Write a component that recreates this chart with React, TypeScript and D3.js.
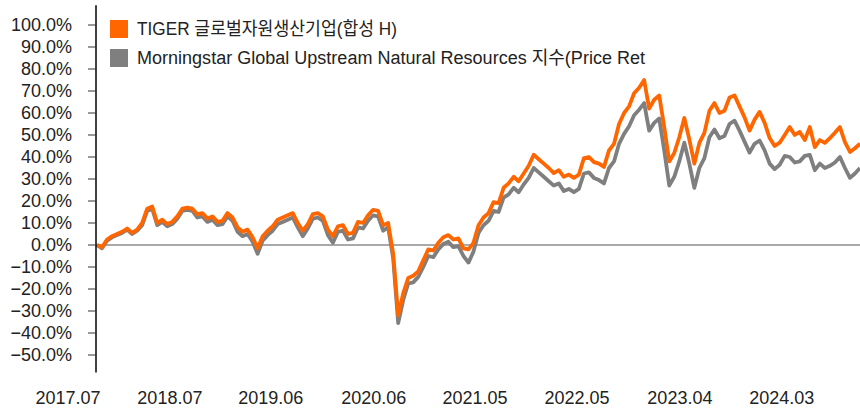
import React, { useEffect, useRef } from 'react';
import * as d3 from 'd3';

const WIDTH = 860;
const HEIGHT = 409;

// series values (cumulative return, %), sampled about every 5px of the original chart
const tigerValues = [
  0, -1, 2.5, 4, 5, 6, 7.5, 5.5, 7, 10,
  16.5, 17.5, 10, 11.5, 9.5, 10.5, 13, 16.5, 17, 16.5,
  14, 14.5, 12, 13, 10.5, 11, 14.5, 12.5, 8, 6,
  7, 3.5, -1.5, 4, 6.5, 8.5, 11.5, 12.5, 13.5, 14.5,
  10, 6.5, 9.5, 14, 14.5, 13, 7, 4, 8.5, 9,
  5, 5.5, 10.5, 10, 13.5, 16, 15.5, 9, 10, -4,
  -32, -22, -15, -14, -12, -7, -2, -2.5, 1, 3.5,
  4.5, 2.5, 3, -1.5, -2, 1, 9, 12.5, 14.5, 19.5,
  19, 26, 28, 31, 29, 32.5, 36, 41, 39, 37,
  35, 32.7, 34, 31, 32, 30.5, 32, 39.5, 40, 37.7,
  37, 35.5, 43, 46, 55, 60, 63, 69, 71.5, 75,
  62, 66, 68, 53.6, 38, 41.8, 49, 57.7, 48, 37,
  46.4, 51, 61, 64.5, 60, 61, 67, 68, 63, 58,
  52, 57, 60.5, 55.5, 48.6, 45, 46.5, 50, 53.6, 50,
  51.4, 47.7, 53.6, 44.5, 47.7, 46.4, 48.6, 51, 53.6, 46.8,
  42.3, 44, 46,
];

const indexValues = [
  0, -1.5, 2, 3.5, 4.5, 5.5, 7, 5, 6.5, 9,
  15.5, 16.5, 9, 10.5, 8.5, 9.5, 12, 15.5, 16, 15.5,
  12.5, 13, 10.5, 11.5, 9, 9.5, 13, 11, 6, 4,
  5, 1.5, -4, 2, 4.5, 6.5, 9.5, 10.5, 11.5, 12.5,
  8, 4, 7.5, 12, 12.5, 11, 4.5, 1, 6, 6.5,
  2.5, 3, 8, 7.5, 11, 13.5, 13, 6.5, 8, -6,
  -35.5, -25, -17.5, -17, -14.5, -10, -5, -5.5, -2, 0.5,
  1.5, -1, -0.5, -5, -8, -3, 5.5, 9, 11, 15.5,
  15, 21.5, 23, 26, 24, 27.5, 30.5, 35, 33, 31,
  29, 27, 28, 24.5, 25.5, 24, 25.5, 32.5, 33, 30.5,
  29.5, 28, 35, 38, 46, 50.5, 54, 59, 61.5, 64.5,
  52, 55.5, 57.5, 43, 27, 31, 38, 46.5, 37, 26,
  35, 39.5, 49, 52.5, 48.5, 49.5, 55, 56.5, 52, 47,
  42, 46, 47.5, 43, 37, 34.5, 36.5, 40.5, 40, 37.5,
  38, 40.5, 41, 34, 37, 35, 36, 37.5, 40, 35,
  30.5, 32.5, 35,
];

const seriesNames = [
  'TIGER 글로벌자원생산기업(합성 H)',
  'Morningstar Global Upstream Natural Resources 지수(Price Ret',
];
const seriesColors = ['#ff6600', '#7f7f7f'];

// x-axis tick labels and where they fall on the sample index
const tickLabels = ['2017.07', '2018.07', '2019.06', '2020.06', '2021.05', '2022.05', '2023.04', '2024.03'];
const tickIndex = [0, 20.3, 40.4, 60.9, 81.1, 101.4, 121.9, 142.2];

const yTicks = [100, 90, 80, 70, 60, 50, 40, 30, 20, 10, 0, -10, -20, -30, -40, -50];

const FONT = '"Liberation Sans", Arial, "Noto Sans CJK KR", sans-serif';

export default function App() {
  const svgRef = useRef<SVGSVGElement>(null);

  useEffect(() => {
    if (!svgRef.current) return;
    const svg = d3.select(svgRef.current);
    svg.selectAll('*').remove();

    const x = d3.scaleLinear().domain([0, tigerValues.length - 1]).range([97, 860]);
    const y = d3.scaleLinear().domain([-58, 109]).range([372.6, 5.2]);
    const axisX = 96;

    // zero line
    svg.append('line')
      .attr('x1', axisX).attr('x2', WIDTH)
      .attr('y1', y(0)).attr('y2', y(0))
      .attr('stroke', '#8c8c8c').attr('stroke-width', 1.5);

    const line = d3.line<number>()
      .x((_, i) => x(i))
      .y(d => y(d))
      .curve(d3.curveLinear);

    // index first, fund on top
    svg.append('path')
      .datum(indexValues)
      .attr('fill', 'none')
      .attr('stroke', seriesColors[1])
      .attr('stroke-width', 3.8)
      .attr('stroke-linejoin', 'round')
      .attr('d', line);

    svg.append('path')
      .datum(tigerValues)
      .attr('fill', 'none')
      .attr('stroke', seriesColors[0])
      .attr('stroke-width', 3.8)
      .attr('stroke-linejoin', 'round')
      .attr('d', line);

    // y axis
    const fmt = d3.format('.1f');
    const yAxis = svg.append('g');
    yAxis.append('line')
      .attr('x1', axisX).attr('x2', axisX)
      .attr('y1', y(109)).attr('y2', y(-58))
      .attr('stroke', '#000').attr('stroke-width', 1.5);
    yTicks.forEach(t => {
      yAxis.append('line')
        .attr('x1', axisX - 8).attr('x2', axisX)
        .attr('y1', y(t)).attr('y2', y(t))
        .attr('stroke', '#333').attr('stroke-width', 1);
      yAxis.append('text')
        .attr('x', 72)
        .attr('y', y(t))
        .attr('dy', '0.36em')
        .attr('text-anchor', 'end')
        .style('font-family', FONT)
        .style('font-size', '18px')
        .style('fill', '#222')
        .text(fmt(t) + '%');
    });

    // x labels
    tickLabels.forEach((label, i) => {
      svg.append('text')
        .attr('x', x(tickIndex[i]) - 29)
        .attr('y', 404)
        .attr('text-anchor', 'middle')
        .style('font-family', FONT)
        .style('font-size', '18px')
        .style('fill', '#222')
        .text(label);
    });

    // legend
    const legendWidths = [260, 508];
    seriesNames.forEach((name, i) => {
      const ly = 29 + i * 29;
      svg.append('rect')
        .attr('x', 110).attr('y', ly - 9)
        .attr('width', 18).attr('height', 18)
        .attr('fill', seriesColors[i]);
      svg.append('text')
        .attr('x', 137)
        .attr('y', ly)
        .attr('dy', '0.36em')
        .attr('textLength', legendWidths[i])
        .attr('lengthAdjust', 'spacingAndGlyphs')
        .style('font-family', FONT)
        .style('font-size', '18px')
        .style('fill', '#222')
        .text(name);
    });
  }, []);

  return (
    <svg
      ref={svgRef}
      width={WIDTH}
      height={HEIGHT}
      style={{ position: 'absolute', left: 0, top: 0, background: '#fff' }}
    />
  );
}
